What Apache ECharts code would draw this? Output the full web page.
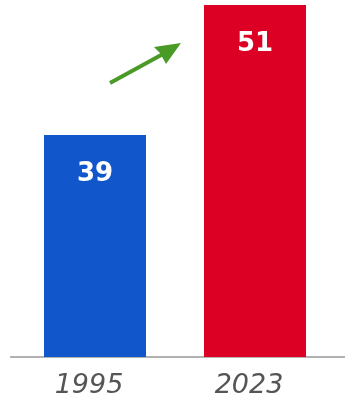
<!DOCTYPE html>
<html><head><meta charset="utf-8">
<script src="https://cdn.jsdelivr.net/npm/echarts@6/dist/echarts.min.js"></script>
<style>html,body{margin:0;padding:0;background:#fff}#c{width:345px;height:402px}</style>
</head><body><div id="c"></div>
<script>
const categories = ['1995', '2023'];
const values = [39, 51];
const barColors = ['#1256cc', '#dc0025'];

const chart = echarts.init(document.getElementById('c'));
chart.setOption({
  animation: false,
  grid: { left: 15, right: 10, top: 5, bottom: 45 },
  xAxis: {
    type: 'category', data: categories,
    axisLine: { show: false }, axisTick: { show: false },
    axisLabel: { color: '#555', fontSize: 27, fontStyle: 'italic', fontFamily: 'DejaVu Sans', margin: 15, padding: [0, 12, 0, 0] }
  },
  yAxis: { type: 'value', min: 18.5, max: 51, show: false, splitLine: { show: false } },
  series: [{
    type: 'bar', barWidth: 102,
    data: values.map((v, i) => ({ value: v, itemStyle: { color: barColors[i] } })),
    label: {
      show: true, position: ['50%', 39], align: 'center', verticalAlign: 'middle',
      color: '#fff', fontSize: 26, fontWeight: 'bold', fontFamily: 'DejaVu Sans'
    }
  }],
  graphic: [
    { type: 'line', shape: { x1: 10, y1: 357, x2: 345, y2: 357 }, style: { stroke: '#999', lineWidth: 1.5 } },
    { type: 'line', shape: { x1: 110, y1: 83, x2: 163, y2: 54 }, style: { stroke: '#4a9a27', lineWidth: 4 } },
    { type: 'polygon', shape: { points: [[181, 43], [154, 47], [160, 53], [166, 64]] }, style: { fill: '#4a9a27' } }
  ]
});
</script></body></html>
